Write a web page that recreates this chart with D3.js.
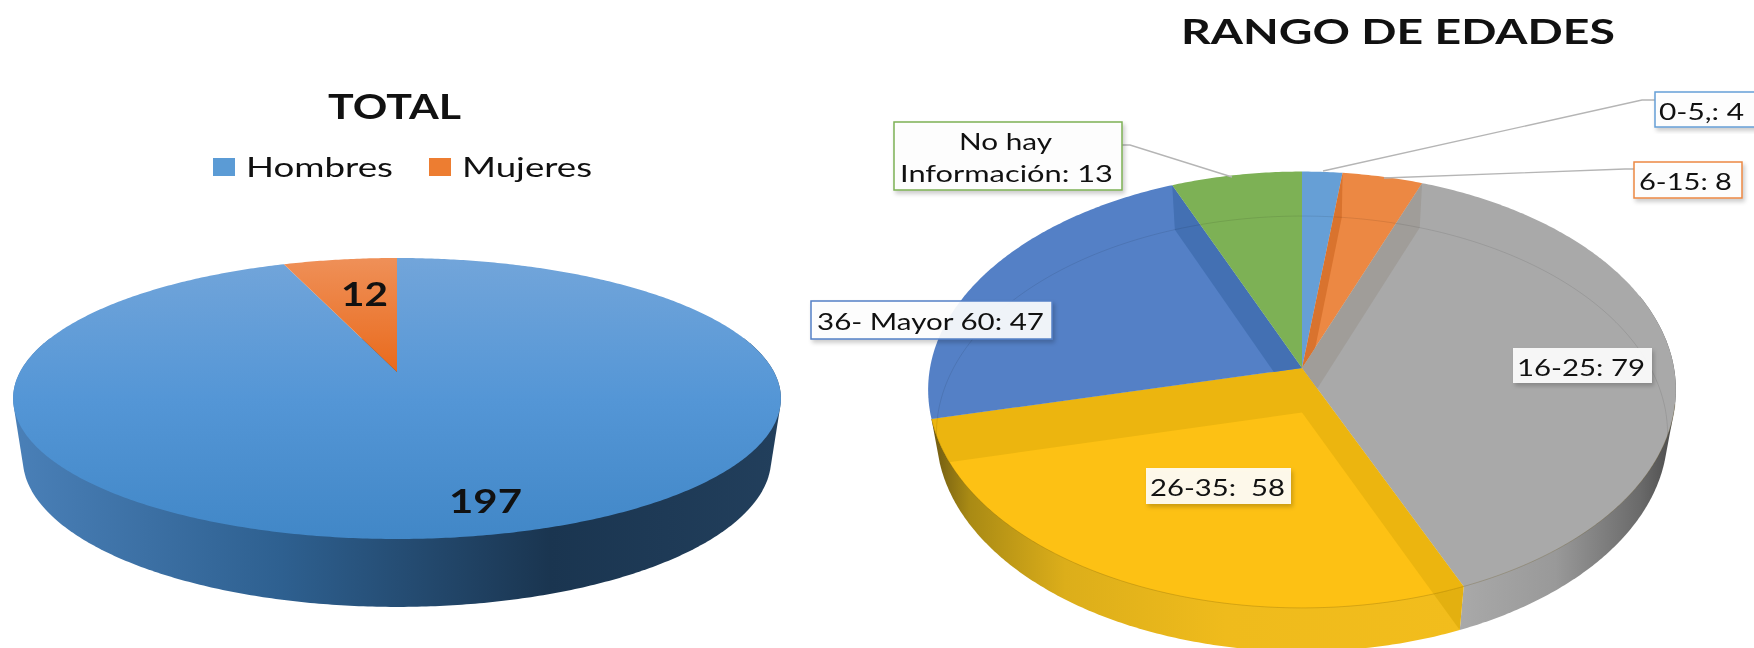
<!DOCTYPE html>
<html>
<head>
<meta charset="utf-8">
<script src="https://cdn.jsdelivr.net/npm/d3@7/dist/d3.min.js"></script>
<style>
html,body{margin:0;padding:0;background:#fff;overflow:hidden}
svg{display:block;filter:blur(0.55px)}
text{font-family:Lato,"Open Sans",sans-serif;fill:#111;white-space:pre}
</style>
</head>
<body>
<svg id="c" width="1754" height="648"></svg>
<script>
// ---- data ----
const totalCategories = ["Hombres", "Mujeres"];
const totalValues = [197, 12];
const ageCategories = ["0-5,", "6-15", "16-25", "26-35", "36- Mayor 60", "No hay Información"];
const ageValues = [4, 8, 79, 58, 47, 13];

// ---- styling ----
const ageColors = ["#669fd6", "#ec8843", "#a9a9a9", "#fdc114", "#5480c6", "#7db155"];
const ageWallColors = ["#5a90c4", "#d9732e", "#a09d99", "#ecb50f", "#4370b3", "#7db155"];
const ageBorders = ["#669fd6", "#ec8843", null, null, "#5480c6", "#7db155"];

const svg = d3.select("#c");
const defs = svg.append("defs");

function linGrad(id, x1, y1, x2, y2, stops) {
  const g = defs.append("linearGradient").attr("id", id).attr("gradientUnits", "userSpaceOnUse")
    .attr("x1", x1).attr("y1", y1).attr("x2", x2).attr("y2", y2);
  stops.forEach(s => g.append("stop").attr("offset", s[0]).attr("stop-color", s[1]));
}
const shadow = defs.append("filter").attr("id", "sh").attr("x", "-10%").attr("y", "-10%").attr("width", "125%").attr("height", "130%");
shadow.append("feDropShadow").attr("dx", 2).attr("dy", 3).attr("stdDeviation", 2).attr("flood-color", "#000").attr("flood-opacity", 0.22);

// perspective projection of the pie disc: (u,v) on the unit circle, z = 0 top, 1 bottom
function projector(cfg) {
  return (a, r, z) => {
    const u = r * Math.sin(a), v = -r * Math.cos(a);
    const w = 1 - cfg.p * v + cfg.q * z;
    return [cfg.x0 + cfg.A * u / w, cfg.y0 + (cfg.B * v + cfg.C * z) / w];
  };
}
const line = d3.line();
const arcSamples = (a0, a1) => {
  const n = Math.max(2, Math.ceil(Math.abs(a1 - a0) / 0.01));
  return d3.range(n + 1).map(i => a0 + (a1 - a0) * i / n);
};
const wedgePts = (P, d, z) => [P(0, 0, z)].concat(arcSamples(d.startAngle, d.endAngle).map(a => P(a, 1, z)));
// silhouette of the rim between two angles: convex hull of upper and lower arcs
const wallPts = (P, a0, a1) => d3.polygonHull(arcSamples(a0, a1).map(a => P(a, 1, 0))
  .concat(arcSamples(a0, a1).map(a => P(a, 1, 1))));
const pie = d3.pie().sort(null).value(d => d);
const rad = d => d * Math.PI / 180;

// ---- left pie: TOTAL ----
const PL = projector({x0: 397, y0: 372, A: 377, B: 135.5, C: 61, p: 0.1886, q: 0.025});
linGrad("lWall", 12, 0, 781, 0, [[0, "#4a80b8"], [0.35, "#2e6090"], [0.7, "#1a3550"], [1, "#223f5c"]]);
linGrad("lBlue", 0, 258, 0, 540, [[0, "#72a5da"], [0.5, "#5496d6"], [1, "#4187c7"]]);
linGrad("lOrange", 0, 258, 0, 372, [[0, "#ef9058"], [1, "#e96a1c"]]);
const totalFills = ["url(#lBlue)", "url(#lOrange)"];
const legendFills = ["#5b9bd5", "#ed7d31"];
const totalArcs = pie(totalValues);

svg.append("path").attr("d", line(wallPts(PL, rad(75), rad(285))) + "Z").attr("fill", "url(#lWall)");
svg.append("g").selectAll("path").data(totalArcs).join("path")
  .attr("d", d => line(wedgePts(PL, d, 0)) + "Z")
  .attr("fill", (d, i) => totalFills[i]);

function fitText(sel, x, y, width, size, weight, anchor) {
  return sel.append("text").attr("x", x).attr("y", y)
    .attr("font-size", size).attr("font-weight", weight || 400)
    .attr("text-anchor", anchor || "start").attr("dominant-baseline", "central")
    .attr("textLength", width).attr("lengthAdjust", "spacingAndGlyphs");
}
fitText(svg, 328, 105, 133, 35, 700).text("TOTAL");

const legendLayout = [{sx: 213, tx: 246, tw: 147}, {sx: 429, tx: 462, tw: 130}];
const legend = svg.append("g");
totalCategories.forEach((c, i) => {
  const l = legendLayout[i];
  legend.append("rect").attr("x", l.sx).attr("y", 158).attr("width", 22).attr("height", 18).attr("fill", legendFills[i]);
  fitText(legend, l.tx, 166, l.tw, 27, 400).text(c);
});
const totalLabelLayout = [{x: 449, y: 500, w: 73}, {x: 341, y: 293, w: 47}];
totalValues.forEach((v, i) => {
  const l = totalLabelLayout[i];
  fitText(svg, l.x, l.y, l.w, 33, 700).text(v);
});

// ---- right pie: RANGO DE EDADES ----
const PR = projector({x0: 1302, y0: 368, A: 372, B: 216, C: 45.5, p: 0.0996, q: 0.0225});
fitText(svg, 1181, 30, 434, 34, 700).text("RANGO DE EDADES");

const ageArcs = pie(ageValues);
linGrad("rGray", 1460, 0, 1672, 0, [[0, "#a9a9a9"], [0.45, "#999"], [0.85, "#6a6a6a"], [1, "#4e4e4e"]]);
linGrad("rYellow", 932, 0, 1465, 0, [[0, "#6f5a12"], [0.07, "#a98a14"], [0.25, "#dcae1a"], [0.55, "#efbb1c"], [1, "#f2bd1c"]]);
const wallFills = {2: "url(#rGray)", 3: "url(#rYellow)"};

// outer rim walls of the front slices
const front = [rad(70), rad(262)];
svg.append("g").selectAll("path").data(ageArcs.filter(d => wallFills[d.index])).join("path")
  .attr("d", d => line(wallPts(PR, Math.max(d.startAngle, front[0]), Math.min(d.endAngle, front[1]))) + "Z")
  .attr("fill", d => wallFills[d.index]);

// the dark inner band of the yellow slice carries on over its rim wall
const yellow = ageArcs[3];
defs.append("clipPath").attr("id", "clipYellowWall").append("path")
  .attr("d", line(wallPts(PR, yellow.startAngle, yellow.endAngle)) + "Z");
svg.append("path").attr("clip-path", "url(#clipYellowWall)")
  .attr("d", line([PR(0, 0, 0), PR(yellow.startAngle, 1, 0), PR(yellow.startAngle, 1, 1), PR(0, 0, 1)]) + "Z")
  .attr("fill", "#e3b010");

// top faces
svg.append("g").selectAll("path").data(ageArcs).join("path")
  .attr("d", d => line(wedgePts(PR, d, 0)) + "Z")
  .attr("fill", d => ageColors[d.index]);

// inner walls seen through the slices, clipped to each slice
ageArcs.forEach(d => {
  const id = "clip" + d.index;
  defs.append("clipPath").attr("id", id).append("path").attr("d", line(wedgePts(PR, d, 0)) + "Z");
  const g = svg.append("g").attr("clip-path", `url(#${id})`);
  [d.startAngle, d.endAngle].forEach(a => {
    g.append("path")
      .attr("d", line([PR(0, 0, 0), PR(a, 1, 0), PR(a, 1, 1), PR(0, 0, 1)]) + "Z")
      .attr("fill", ageWallColors[d.index]);
  });
});

// faint outline of the lower rim, visible through the disc
defs.append("clipPath").attr("id", "clipTop").append("path")
  .attr("d", line(arcSamples(0, 2 * Math.PI).map(a => PR(a, 1, 0))) + "Z");
svg.append("path").attr("clip-path", "url(#clipTop)").attr("fill", "none")
  .attr("stroke", "rgba(0,0,0,0.09)").attr("stroke-width", 1)
  .attr("d", line(arcSamples(0, 2 * Math.PI).map(a => PR(a, 1, 1))));
// front edge of the top face
svg.append("path").attr("fill", "none").attr("stroke", "rgba(90,70,0,0.22)").attr("stroke-width", 1)
  .attr("d", line(arcSamples(ageArcs[2].endAngle - 1.0, ageArcs[3].endAngle).map(a => PR(a, 1, 0))));

// leader lines
const leaders = [
  {i: 0, pts: [[1323, 171], [1642, 100], [1655, 100]]},
  {i: 1, pts: [[1384, 178], [1625, 169], [1634, 169]]},
  {i: 5, pts: [[1232, 177], [1130, 145], [1122, 145]]}
];
svg.append("g").selectAll("path").data(leaders).join("path")
  .attr("d", d => line(d.pts)).attr("fill", "none").attr("stroke", "#b5b5b5").attr("stroke-width", 1.4);

// data labels
const labelLayout = [
  {x: 1655, y: 92, w: 104, h: 35, lines: [{x: 1659, y: 110, w: 85}]},
  {x: 1634, y: 162, w: 108, h: 36, lines: [{x: 1639, y: 180, w: 93}]},
  {x: 1513, y: 348, w: 139, h: 35, lines: [{x: 1517, y: 366, w: 128}]},
  {x: 1146, y: 468, w: 145, h: 36, lines: [{x: 1150, y: 486, w: 135}]},
  {x: 811, y: 301, w: 241, h: 38, lines: [{x: 817, y: 320, w: 227}]},
  {x: 894, y: 122, w: 228, h: 68, lines: [{x: 959, y: 140, w: 93}, {x: 900, y: 172, w: 213}]}
];
const labelTexts = ageCategories.map((c, i) => {
  if (i === 5) return ["No hay", `Información: ${ageValues[i]}`];
  if (i === 3) return [`${c}:  ${ageValues[i]}`];
  return [`${c}: ${ageValues[i]}`];
});
labelLayout.forEach((l, i) => {
  svg.append("rect").attr("x", l.x).attr("y", l.y).attr("width", l.w).attr("height", l.h)
    .attr("fill", "#fff").attr("fill-opacity", 0.9).attr("filter", "url(#sh)")
    .attr("stroke", ageBorders[i] || "none").attr("stroke-width", 1.5);
  l.lines.forEach((t, k) => {
    fitText(svg, t.x, t.y, t.w, 24, 400).text(labelTexts[i][k]);
  });
});
</script>
</body>
</html>
